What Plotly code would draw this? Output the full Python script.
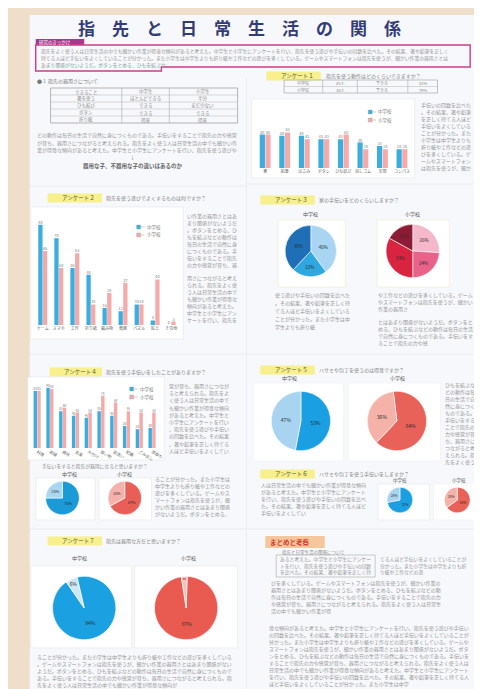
import plotly.graph_objects as go

W, H = 482, 689
FONT = "Noto Sans CJK JP"

# ---------------- data ----------------
q1_categories = ["箸", "鉛筆", "はさみ", "ボタン", "ひも結び", "消しゴム", "定規", "コンパス"]
q1_junior = [50, 48, 48, 43, 43, 38, 33, 28]
q1_elementary = [50, 53, 43, 43, 50, 28, 28, 28]

q2_categories = ["ゲーム", "スマホ", "工作", "折り紙", "編み物", "楽器", "パズル", "粘土", "その他"]
q2_junior = [88, 76, 50, 44, 15, 12, 18, 4, 0]
q2_elementary = [65, 50, 63, 18, 28, 37, 18, 40, 3]

q4_categories = ["料理", "裁縫", "掃除", "洗濯", "片付け", "買い物", "皿洗い", "配膳", "ごみ出し", "草取り"]
q4_junior = [85, 90, 55, 48, 45, 55, 48, 33, 28, 30]
q4_elementary = [85, 88, 60, 53, 53, 78, 68, 55, 53, 53]

series_names = ["中学校", "小学校"]

q3_labels_junior = ["よくする", "ときどき", "あまりしない"]
q3_junior = [40, 22, 38]
q3_labels_elementary = ["よくする", "ときどき", "あまりしない", "しない"]
q3_elementary = [26, 24, 33, 17]

yes_no = ["はい", "いいえ"]
q4b_junior = [75, 25]
q4b_elementary = [67, 33]
q5_junior = [53, 47]
q5_elementary = [64, 36]
q6_junior = [72, 28]
q6_elementary = [65, 35]
q7_junior = [94, 6]
q7_elementary = [97, 3]

BLUE = "#3aaee0"
PINK = "#f5aaa9"
TXT = "#959595"


def X(x):
    return x / W


def Y(y):
    return 1 - y / H


fig = go.Figure()
shapes = []
annotations = []


def rect(x0, y0, x1, y1, fill="rgba(0,0,0,0)", line="rgba(0,0,0,0)", lw=0.8, layer="below"):
    shapes.append(dict(type="rect", xref="paper", yref="paper",
                       x0=X(x0), x1=X(x1), y0=Y(y1), y1=Y(y0),
                       fillcolor=fill, line=dict(color=line, width=lw), layer=layer))


def hline(x0, x1, y, color="#e4e8ee", lw=0.8):
    shapes.append(dict(type="line", xref="paper", yref="paper",
                       x0=X(x0), x1=X(x1), y0=Y(y), y1=Y(y), line=dict(color=color, width=lw)))


def vline(x, y0, y1, color="#e4e8ee", lw=0.8):
    shapes.append(dict(type="line", xref="paper", yref="paper",
                       x0=X(x), x1=X(x), y0=Y(y0), y1=Y(y1), line=dict(color=color, width=lw)))


def txt(x, y, s, size=5, color=TXT, anchor="left", bold=False):
    annotations.append(dict(x=X(x), y=Y(y), xref="paper", yref="paper", text=("<b>%s</b>" % s) if bold else s,
                            showarrow=False, xanchor=anchor, yanchor="middle", borderpad=0,
                            font=dict(size=size, color=color, family=FONT)))


FILLER = ("指先をよく使う人は日常生活の中でも細かい作業が得意な傾向があると考えた。"
          "中学生と小学生にアンケートを行い、指先を使う遊びや手伝いの回数を比べた。"
          "その結果、箸や鉛筆を正しく持てる人ほど手伝いをよくしていることが分かった。"
          "また小学生は中学生よりも折り紙や工作などの遊びを多くしている。"
          "ゲームやスマートフォンは指先を使うが、細かい作業の器用さとはあまり関係がないようだ。"
          "ボタンをとめる、ひもを結ぶなどの動作は毎日の生活で自然に身につくものである。"
          "手伝いをすることで指先の力や感覚が育ち、器用さにつながると考えられる。")
_pos = [0]


def para(x, y, n, lines, dy=7, size=5, last=None, color=TXT):
    for i in range(lines):
        k = n if (i < lines - 1 or last is None) else last
        s = ""
        while len(s) < k:
            s += FILLER[_pos[0] % len(FILLER)]
            _pos[0] += 1
        txt(x, y + i * dy, s, size=size, color=color)


def heading(x0, x1, y, label, question, qx=None):
    rect(x0, y - 4.5, x1, y + 4.5, fill="#f7f08c")
    txt(x0 + 14, y, label, size=5.5, color="#55553a")
    txt(qx if qx else x1 + 3, y, question, size=5, color="#808080")


def manual_legend(x, y, dy=8):
    for i, (name, col) in enumerate([(series_names[0], BLUE), (series_names[1], PINK)]):
        yy = y + i * dy
        rect(x, yy - 2, x + 4, yy + 2, fill=col, line="#9aa", lw=0.4, layer="above")
        hline(x + 4.5, x + 8, yy, color="#999", lw=0.5)
        txt(x + 9, yy, name, size=4.5, color="#777")


# ---------------- poster background ----------------
rect(22, 7, 482, 689, fill="#f7f8fb")
vline(241, 70, 689)
hline(241, 478, 176)
hline(22, 241, 178)
hline(22, 478, 346)
hline(22, 478, 521)

# ---------------- title ----------------
txt(234, 20, "　".join("指先と日常生活の関係"), size=17, color="#333b78", anchor="center", bold=True)

# intro box
shapes.append(dict(type="path", xref="paper", yref="paper",
                   path="M %f,%f L %f,%f L %f,%f L %f,%f L %f,%f L %f,%f Z" % (
                       X(28), Y(37), X(467), Y(37), X(467), Y(59), X(155), Y(59), X(155), Y(63), X(28), Y(63)),
                   line=dict(color="#cf3d86", width=1.4)))
rect(28, 31, 77, 37, fill="#a33a8c")
txt(30, 34, "研究のきっかけ", size=4.5, color="#ffffff")
para(32, 43, 85, 3, dy=7, size=4.8, last=26)

# ---------------- section 1 (left top) ----------------
txt(28, 73, "●１ 指先の器用さについて", size=5, color="#777")
rect(43, 80, 232, 115, line="#9a9a9a", lw=0.7)
for yy in [87, 94, 101, 108]:
    hline(43, 232, yy, color="#b5b5b5", lw=0.5)
for xx in [115, 163]:
    vline(xx, 80, 115, color="#9a9a9a", lw=0.5)
cells = [["できること", "中学生", "小学生"], ["箸を使う", "ほとんどできる", "半分"],
         ["ひも結び", "できる", "まだ少ない"], ["ボタン", "できる", "できる"], ["折り紙", "得意", "得意"]]
for r, row in enumerate(cells):
    for c, s in enumerate(row):
        cx = [79, 139, 197][c]
        txt(cx, 83.5 + r * 7, s, size=4.5, color="#8a8a8a", anchor="center")
para(28, 127, 40, 3, dy=7.5, size=5)
txt(126, 149, "↓", size=5, color="#888", anchor="center")
txt(126, 158, "器用な子、不器用な子の違いはあるのか", size=5.5, color="#666", anchor="center", bold=True)

# ---------------- Q1 (right top) ----------------
heading(261, 316, 68, "アンケート１", "指先を使う動作はどのくらいできますか？", qx=320)
rect(279, 72, 434, 85, line="#9a9a9a", lw=0.6)
hline(279, 434, 78.5, color="#b5b5b5", lw=0.5)
for xx in [318, 353, 404]:
    vline(xx, 72, 85, color="#9a9a9a", lw=0.5)
for r, row in enumerate([["中学校", "45人", "できる", "82%"], ["小学校", "38人", "できる", "79%"]]):
    for c, s in enumerate(row):
        txt([298, 335, 378, 419][c], 75.3 + r * 6.5, s, size=4, color="#888", anchor="center")
rect(246, 91, 411, 170, fill="#ffffff", line="#e2e6ec", lw=0.6)
manual_legend(364, 104)
para(416, 97, 10, 10, dy=7)

# ---------------- Q2 ----------------
heading(40, 95, 190, "アンケート２", "指先を使う遊びでよくするものは何ですか？")
rect(23, 199, 177, 331, fill="#ffffff", line="#e2e6ec", lw=0.6)
manual_legend(130, 219)
para(180, 208, 10, 8, dy=7)
para(180, 270, 10, 7, dy=7)

# ---------------- Q3 ----------------
heading(255, 310, 192, "アンケート３", "家の手伝いをどのくらいしますか？")
rect(273, 212, 341, 279, fill="#ffffff", line="#efe9cf", lw=0.6)
rect(373, 212, 446, 279, fill="#ffffff", line="#efe9cf", lw=0.6)
txt(306, 206, "中学校", size=5, color="#555", anchor="center")
txt(409, 206, "小学校", size=5, color="#555", anchor="center")
para(269, 287, 15, 5, dy=8, last=8)
para(373, 287, 19, 3, dy=7, last=6)
para(373, 314, 19, 4, dy=7, last=10)

# ---------------- Q4 ----------------
heading(42, 95, 364, "アンケート４", "指先を使う手伝いをしたことがありますか？")
rect(20, 369, 158, 452, fill="#ffffff", line="#e2e6ec", lw=0.6)
manual_legend(123, 381)
para(162, 378, 12, 10, dy=7.2)
txt(33, 458, "手伝いをすると指先が器用になると思いますか？", size=4.8, color="#888")
rect(28, 470, 88, 512, fill="#ffffff", line="#e2e6ec", lw=0.6)
rect(92, 470, 145, 512, fill="#ffffff", line="#e2e6ec", lw=0.6)
txt(62, 466, "中学校", size=5, color="#555", anchor="center")
txt(118, 466, "小学校", size=5, color="#555", anchor="center")
para(148, 471, 15, 6, dy=7)

# ---------------- Q5 ----------------
heading(255, 310, 362, "アンケート５", "ハサミや包丁を使うのは得意ですか？")
rect(248, 375, 339, 453, fill="#ffffff", line="#eef0f4", lw=0.6)
rect(344, 375, 437, 453, fill="#ffffff", line="#eef0f4", lw=0.6)
txt(284, 370, "中学校", size=5, color="#555", anchor="center")
txt(394, 370, "小学校", size=5, color="#555", anchor="center")
para(441, 377, 6, 12, dy=7)

# ---------------- Q6 ----------------
heading(255, 310, 466, "アンケート６", "ハサミや包丁を使う手伝いをしますか？")
rect(374, 476, 426, 512, fill="#ffffff", line="#e2e6ec", lw=0.6)
rect(430, 476, 478, 512, fill="#ffffff", line="#eef0f4", lw=0.6)
txt(396, 472, "中学校", size=4.5, color="#555", anchor="center")
txt(456, 472, "小学校", size=4.5, color="#555", anchor="center")
para(255, 477, 21, 5, dy=7, last=9)

# ---------------- Q7 ----------------
heading(40, 95, 533, "アンケート７", "指先は器用な方だと思いますか？")
rect(23, 558, 125, 640, fill="#ffffff", line="#e2e6ec", lw=0.6)
rect(128, 558, 232, 640, fill="#ffffff", line="#e2e6ec", lw=0.6)
txt(72, 550, "中学校", size=5, color="#555", anchor="center")
txt(182, 550, "小学校", size=5, color="#555", anchor="center")
para(28, 649, 39, 5, dy=7, last=28)

# ---------------- まとめ ----------------
rect(260, 528, 320, 540, fill="#f6c79c")
txt(264, 534, "まとめと考察", size=6.5, color="#d8402a", bold=True)
txt(276, 544, "指先と日常生活の関係について", size=4.5, color="#888")
rect(271, 547, 371, 569, line="#a8a8a8", lw=0.6)
para(274, 551, 19, 3, dy=6.5, size=4.8)
para(375, 551, 18, 3, dy=6.5, size=4.8, last=9)
para(265, 575, 34, 5, dy=7, last=12)
para(263, 620, 40, 9, dy=7, last=28)


# ---------------- bar charts ----------------
def bar_chart(idx, cats, vj, ve, dom_x, dom_y):
    ax = "" if idx == 1 else str(idx)
    for name, vals, col in [(series_names[0], vj, BLUE), (series_names[1], ve, PINK)]:
        fig.add_trace(go.Bar(x=cats, y=vals, name=name, marker=dict(color=col, line=dict(width=0)),
                             text=[str(v) for v in vals], textposition="outside",
                             textfont=dict(size=3.8, color="#777"), cliponaxis=False,
                             xaxis="x" + ax, yaxis="y" + ax, showlegend=False))
    fig.update_layout(**{
        "xaxis" + ax: dict(domain=[X(dom_x[0]), X(dom_x[1])], anchor="y" + ax, showgrid=False, ticks="",
                           tickfont=dict(size=4, color="#666", family=FONT), showline=False, zeroline=False,
                           fixedrange=True),
        "yaxis" + ax: dict(domain=[Y(dom_y[1]), Y(dom_y[0])], anchor="x" + ax, range=[0, 100], showgrid=False,
                           showticklabels=False, zeroline=False, showline=False, fixedrange=True),
    })


bar_chart(1, q1_categories, q1_junior, q1_elementary, (250, 408), (93, 160))
bar_chart(2, q2_categories, q2_junior, q2_elementary, (27, 173), (203, 317))
bar_chart(3, q4_categories, q4_junior, q4_elementary, (23, 152), (373, 440))


# ---------------- pies ----------------
def pie(labels, vals, colors, cx, cy, r, rot=0, tsize=5):
    fig.add_trace(go.Pie(labels=labels, values=vals, sort=False, direction="clockwise", rotation=rot,
                         marker=dict(colors=colors, line=dict(color="#ffffff", width=0.6)),
                         domain=dict(x=[X(cx - r), X(cx + r)], y=[Y(cy + r), Y(cy - r)]),
                         textinfo="percent", textposition="inside", insidetextorientation="horizontal",
                         textfont=dict(size=tsize, color="#2a2a2a", family=FONT), showlegend=False))


pie(q3_labels_junior, q3_junior, ["#a8d5f2", "#2fa8e2", "#1f6fb6"], 306, 243, 26, tsize=4.5)
pie(q3_labels_elementary, q3_elementary, ["#f5b8cb", "#e8628a", "#d82440", "#8e1b35"], 409, 243, 27, tsize=4.5)
pie(yes_no, q4b_junior, ["#1b9ad8", "#a9d6f1"], 55, 490, 17, tsize=3.8)
pie(yes_no, q4b_elementary, ["#e85f58", "#f4b2ab"], 118, 490, 17, tsize=3.8)
pie(yes_no, q5_junior, ["#1a9fe2", "#a8d4f1"], 296, 413, 30)
pie(yes_no, q5_elementary, ["#e8625a", "#f5b2a9"], 393, 413, 30, rot=-7)
pie(yes_no, q6_junior, ["#1a9fe2", "#a8d4f1"], 396, 492, 13, tsize=3.2)
pie(yes_no, q6_elementary, ["#e8625a", "#f5b2a9"], 454, 492, 13, tsize=3.2)
pie(yes_no, q7_junior, ["#1ba0e1", "#cfe6f5"], 77, 600, 32, rot=-13)
pie(yes_no, q7_elementary, ["#e95a50", "#f6c2bc"], 180, 600, 32, rot=2)

fig.update_layout(
    width=W, height=H, margin=dict(l=0, r=0, t=0, b=0),
    paper_bgcolor="#efdfca", plot_bgcolor="rgba(0,0,0,0)",
    font=dict(family=FONT),
    barmode="group", bargap=0.42, bargroupgap=0.08,
    shapes=shapes, annotations=annotations, showlegend=False,
)

fig.write_html("out.html")
